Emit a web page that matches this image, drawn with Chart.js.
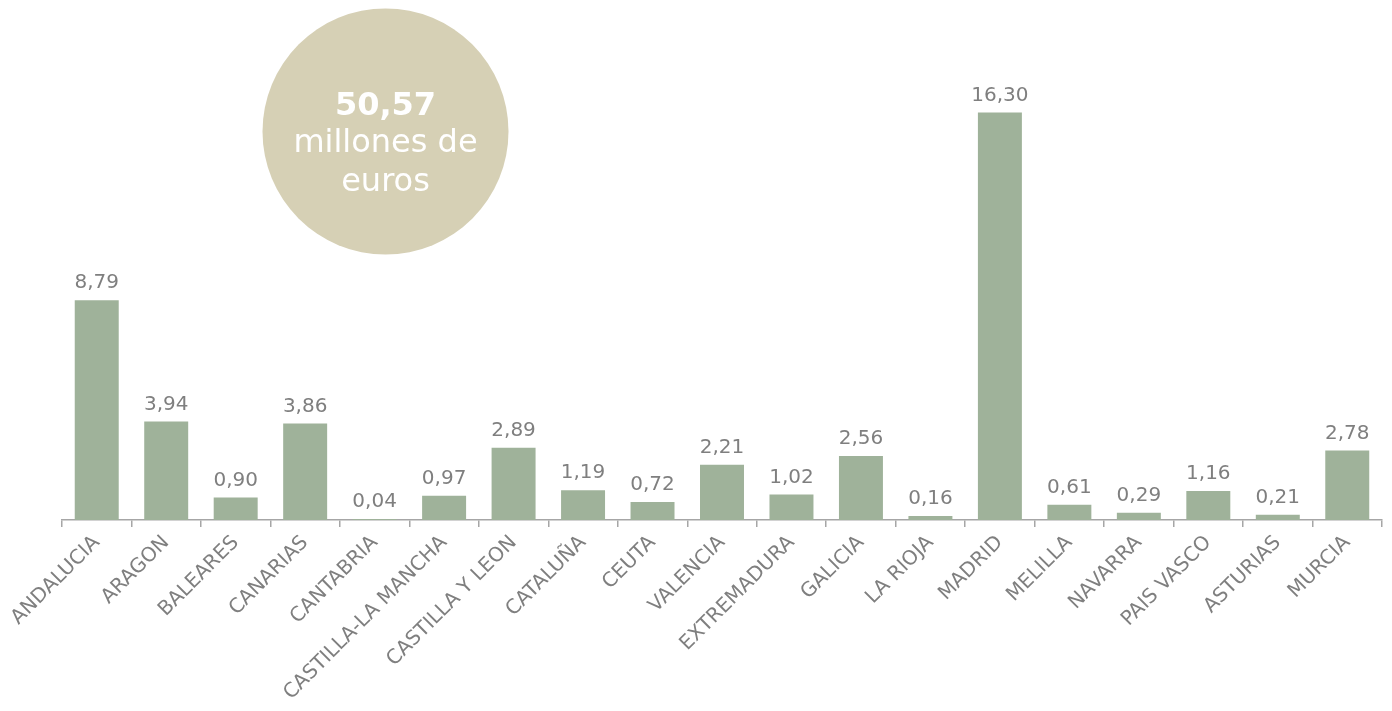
<!DOCTYPE html>
<html>
<head>
<meta charset="utf-8">
<script src="https://cdn.jsdelivr.net/npm/chart.js@4"></script>
<style>
  html, body { margin: 0; padding: 0; background: #ffffff; }
  #wrap { width: 1392px; height: 711px; position: relative; }
</style>
</head>
<body>
<div id="wrap"><canvas id="regionChart"></canvas></div>
<script>
// Regions (x axis categories)
const regions = [
    "ANDALUCIA", "ARAGON", "BALEARES", "CANARIAS", "CANTABRIA",
    "CASTILLA-LA MANCHA", "CASTILLA Y LEON", "CATALUÑA", "CEUTA", "VALENCIA",
    "EXTREMADURA", "GALICIA", "LA RIOJA", "MADRID", "MELILLA",
    "NAVARRA", "PAIS VASCO", "ASTURIAS", "MURCIA"
];

// Millions of euros per region
const amounts = [
    8.79, 3.94, 0.90, 3.86, 0.04,
    0.97, 2.89, 1.19, 0.72, 2.21,
    1.02, 2.56, 0.16, 16.30, 0.61,
    0.29, 1.16, 0.21, 2.78
];

// Text in the circle
const totalLines = ["50,57", "millones de", "euros"];

const barColor = "#9fb29a";
const textGrey = "#7f7f7f";
const axisGrey = "#a6a6a6";

// "16.3" -> "16,30"
function formatEs(v) {
    return v.toFixed(2).replace(".", ",");
}

// Value labels above each bar
const valueLabels = {
    id: "valueLabels",
    afterDatasetsDraw(chart) {
        const { ctx } = chart;
        const meta = chart.getDatasetMeta(0);
        ctx.save();
        ctx.font = "20px 'DejaVu Sans', Verdana, sans-serif";
        ctx.fillStyle = textGrey;
        ctx.textAlign = "center";
        ctx.textBaseline = "alphabetic";
        meta.data.forEach((bar, i) => {
            ctx.fillText(formatEs(amounts[i]), bar.x, bar.y - 12);
        });
        ctx.restore();
    }
};

// Beige circle with the total
const totalBubble = {
    id: "totalBubble",
    afterDraw(chart) {
        const { ctx } = chart;
        const cx = 385.5, cy = 131.5, r = 123;
        ctx.save();
        ctx.beginPath();
        ctx.arc(cx, cy, r, 0, Math.PI * 2);
        ctx.fillStyle = "#d6d0b5";
        ctx.fill();
        ctx.fillStyle = "#ffffff";
        ctx.textAlign = "center";
        ctx.textBaseline = "middle";
        ctx.font = "bold 32px 'DejaVu Sans', Verdana, sans-serif";
        ctx.fillText(totalLines[0], cx, 107);
        ctx.font = "32px 'DejaVu Sans', Verdana, sans-serif";
        ctx.fillText(totalLines[1], cx, 144);
        ctx.fillText(totalLines[2], cx, 183);
        ctx.restore();
    }
};

const ctx = document.getElementById("regionChart");

new Chart(ctx, {
    type: "bar",
    data: {
        labels: regions,
        datasets: [{
            data: amounts,
            backgroundColor: barColor,
            borderWidth: 0,
            barPercentage: 0.633,
            categoryPercentage: 1
        }]
    },
    options: {
        responsive: true,
        maintainAspectRatio: false,
        animation: false,
        layout: { padding: { top: 20, left: 62, right: 10, bottom: 0 } },
        plugins: {
            legend: { display: false },
            tooltip: { enabled: false }
        },
        scales: {
            y: {
                display: false,
                min: 0,
                max: 20
            },
            x: {
                offset: true,
                border: { display: true, color: axisGrey, width: 1.5 },
                grid: {
                    offset: true,
                    drawOnChartArea: false,
                    drawTicks: true,
                    tickLength: 7,
                    color: axisGrey,
                    lineWidth: 1.5
                },
                ticks: {
                    color: textGrey,
                    font: { family: "'DejaVu Sans', Verdana, sans-serif", size: 20 },
                    minRotation: 45,
                    maxRotation: 45,
                    autoSkip: false,
                    padding: 4
                },
                afterFit(scale) {
                    scale.height = 191;
                    scale.paddingLeft = 0;
                    scale.paddingRight = 0;
                }
            }
        }
    },
    plugins: [valueLabels, totalBubble]
});
</script>
</body>
</html>
